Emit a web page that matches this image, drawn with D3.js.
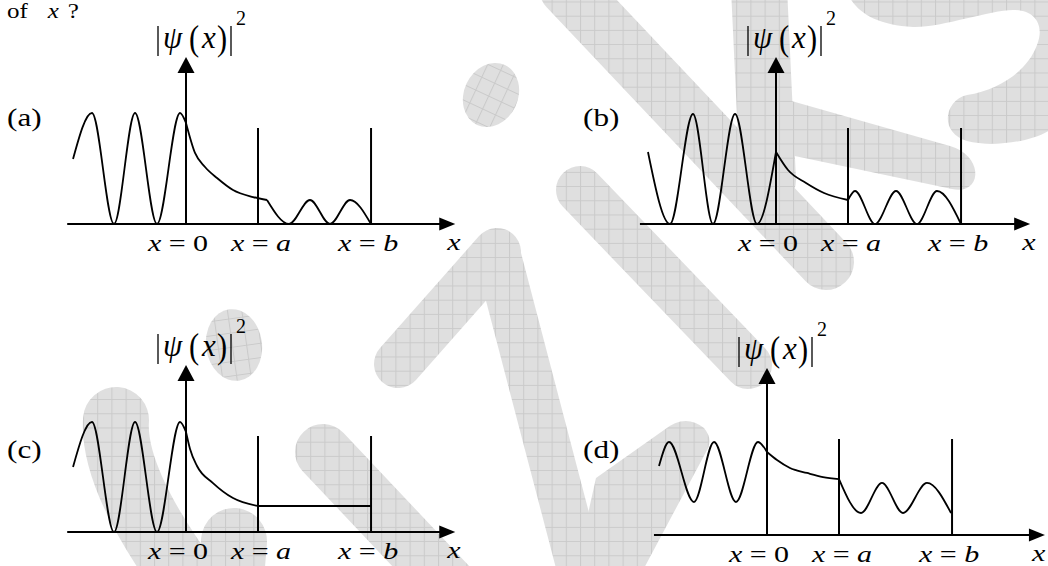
<!DOCTYPE html>
<html>
<head>
<meta charset="utf-8">
<script src="https://cdn.jsdelivr.net/npm/d3@7"></script>
<style>
  body { margin: 0; background: #fff; }
  svg { display: block; }
</style>
</head>
<body>
<svg id="chart" width="1048" height="566"></svg>
<script>
// panel names and the three marked positions on every x axis (x = 0, x = a, x = b)
let panelNames = ["(a)", "(b)", "(c)", "(d)"];
let tickNames = ["0", "a", "b"];
let tickValues = [0, 1, 2.57];
let axisStart = [-1.65, -1.89, -1.65, -1.57];
let axisEnd = [3.74, 3.53, 3.74, 3.86];

// |psi(x)|^2, [x, value] with a = 1 and barrier height = 1
// each curve is split into the pieces left of 0, inside the barrier, right of it
let curveA = [
  [[-1.569, 0.677], [-1.306, 1.156], [-1.0, 0], [-0.708, 1.156], [-0.403, 0], [-0.083, 1.156], [0, 1.052]],
  [[0, 1.052], [0.125, 0.74], [0.264, 0.594], [0.431, 0.479], [0.653, 0.354], [0.931, 0.281], [1.125, 0.25]],
  [[1.125, 0.25], [1.431, 0], [1.722, 0.25], [2.0, 0], [2.278, 0.25], [2.569, 0]],
];
let curveB = [
  [[-1.778, 0.75], [-1.472, 0], [-1.153, 1.146], [-0.875, 0], [-0.569, 1.146], [-0.264, 0], [0, 0.75]],
  [[0, 0.75], [0.167, 0.5625], [0.417, 0.427], [0.667, 0.323], [1.0, 0.25]],
  [[1.0, 0.25], [1.097, 0.344], [1.375, 0], [1.667, 0.344], [1.958, 0], [2.236, 0.344], [2.569, 0]],
];
let curveC = [
  [[-1.569, 0.677], [-1.306, 1.146], [-1.0, 0], [-0.708, 1.146], [-0.403, 0], [-0.083, 1.146], [0, 1.042]],
  [[0, 1.042], [0.056, 0.865], [0.153, 0.6875], [0.375, 0.51], [0.653, 0.354], [1.0, 0.271]],
  [[1.0, 0.271], [2.569, 0.271]],
];
let curveD = [
  [[-1.5, 0.719], [-1.361, 0.969], [-1.014, 0.344], [-0.736, 0.969], [-0.431, 0.344], [-0.125, 0.969], [0, 0.865]],
  [[0, 0.865], [0.139, 0.781], [0.319, 0.698], [0.556, 0.646], [0.778, 0.604], [1.0, 0.583]],
  [[1.0, 0.583], [1.306, 0.229], [1.597, 0.542], [1.889, 0.229], [2.222, 0.542], [2.556, 0.229]],
];
let curves = [curveA, curveB, curveC, curveD];

// where each panel sits on the page
let layout = [
  { x0: 186, y0: 224, labelX: 7, labelY: 126 },
  { x0: 776, y0: 224, labelX: 583, labelY: 126 },
  { x0: 186, y0: 532, labelX: 7, labelY: 458 },
  { x0: 767, y0: 535, labelX: 583, labelY: 458 },
];
let unitX = 72;
let unitY = 96;
let arrowTop = 1.74;
let tickShift = [-8, 3, -3];
let serif = "'Liberation Serif', 'Times New Roman', Times, serif";

let svg = d3.select("#chart").attr("font-family", serif);

// watermark in the background: grey brush strokes with a fine grid
let defs = svg.append("defs");
let pat = defs
  .append("pattern")
  .attr("id", "grid")
  .attr("patternUnits", "userSpaceOnUse")
  .attr("width", 14.2)
  .attr("height", 14.2)
  .attr("x", 12)
  .attr("y", 1.5);
pat.append("rect").attr("width", 14.2).attr("height", 14.2).attr("fill", "#dfdfdf");
pat
  .append("path")
  .attr("d", "M0,0.5H14.2M0.5,0V14.2")
  .attr("stroke", "#cacaca")
  .attr("stroke-width", 1)
  .attr("fill", "none");

let wm = svg.append("g").attr("class", "watermark");

let strokes = [
  { d: "M567,-12 L826,262", w: 56 },
  { d: "M759,-12 L768,180", w: 56 },
  { d: "M580,190 L748,365", w: 48 },
  { d: "M398,364 L497,252", w: 48 },
  { d: "M497,252 L592,615", w: 46 },
  { d: "M116,420 Q112,480 190,585", w: 66 },
  { d: "M234,541 L228,615", w: 66 },
  { d: "M323,452 L458,595", w: 56 },
];
wm.selectAll(".brush")
  .data(strokes)
  .enter()
  .append("path")
  .attr("class", "brush")
  .attr("d", (d) => d.d)
  .attr("fill", "none")
  .attr("stroke", "url(#grid)")
  .attr("stroke-width", (d) => d.w)
  .attr("stroke-linecap", "round");

let shapes = [
  "M788,100 L950,146 C985,156 982,196 952,189 L790,155 Z",
  "M850,-2 C860,15 880,25 913,27 C940,28 990,10 1013,10 C1035,10 1045,25 1037,45 C1028,70 1000,90 967,95 C945,100 938,132 967,141 C990,147 1030,143 1050,130 L1050,-2 Z",
  "M596,478 L664,430 Q685,413 704,428 Q714,440 706,452 L642,572 L575,572 Z",
];
wm.selectAll(".blob")
  .data(shapes)
  .enter()
  .append("path")
  .attr("class", "blob")
  .attr("d", (d) => d)
  .attr("fill", "url(#grid)");

wm.append("ellipse")
  .attr("rx", 27).attr("ry", 33)
  .attr("transform", "translate(491,95) rotate(25)")
  .attr("fill", "url(#grid)");
wm.append("ellipse")
  .attr("rx", 28).attr("ry", 36)
  .attr("transform", "translate(234,345) rotate(-8)")
  .attr("fill", "url(#grid)");

// end of the question text at the top edge
let q = svg
  .append("text")
  .attr("transform", "translate(7,18) scale(1.25,1)")
  .attr("font-size", 20);
q.append("tspan").text("of");
q.append("tspan").attr("dx", 16).attr("font-style", "italic").text("x");
q.append("tspan").attr("dx", 7).text("?");

let line = d3
  .line()
  .curve(d3.curveMonotoneX);

layout.forEach(function (p, i) {
  let g = svg.append("g").attr("class", "panel");

  let x = d3.scaleLinear().domain([0, 1]).range([p.x0, p.x0 + unitX]);
  let y = d3.scaleLinear().domain([0, 1]).range([p.y0, p.y0 - unitY]);

  // x axis with arrow
  let xEnd = x(axisEnd[i]);
  g.append("line")
    .attr("x1", x(axisStart[i]))
    .attr("x2", xEnd - 12)
    .attr("y1", y(0))
    .attr("y2", y(0))
    .attr("stroke", "#000")
    .attr("stroke-width", 2);
  g.append("path")
    .attr("d", `M${xEnd},${y(0)} L${xEnd - 16},${y(0) - 6.5} L${xEnd - 16},${y(0) + 6.5} Z`)
    .attr("fill", "#000");

  // y axis with arrow
  let tip = y(arrowTop);
  g.append("line")
    .attr("x1", x(0))
    .attr("x2", x(0))
    .attr("y1", y(0))
    .attr("y2", tip + 12)
    .attr("stroke", "#000")
    .attr("stroke-width", 2);
  g.append("path")
    .attr("d", `M${x(0)},${tip} L${x(0) - 8.5},${tip + 16} L${x(0) + 8.5},${tip + 16} Z`)
    .attr("fill", "#000");

  // walls at x = a and x = b
  g.selectAll(".wall")
    .data(tickValues.slice(1))
    .enter()
    .append("line")
    .attr("class", "wall")
    .attr("x1", (d) => x(d))
    .attr("x2", (d) => x(d))
    .attr("y1", y(0))
    .attr("y2", y(1))
    .attr("stroke", "#000")
    .attr("stroke-width", 2);

  // the probability density
  line.x((d) => x(d[0])).y((d) => y(d[1]));
  g.selectAll(".psi")
    .data(curves[i])
    .enter()
    .append("path")
    .attr("class", "psi")
    .attr("d", line)
    .attr("fill", "none")
    .attr("stroke", "#000")
    .attr("stroke-width", 1.8)
    .attr("stroke-linejoin", "round");

  // tick labels x = 0, x = a, x = b
  tickValues.forEach(function (v, k) {
    let t = g
      .append("text")
      .attr("transform", `translate(${x(v) + tickShift[k]},${y(0) + 27}) scale(1.25,1)`)
      .attr("text-anchor", "middle")
      .attr("font-size", 24);
    t.append("tspan").attr("font-style", "italic").text("x");
    t.append("tspan").attr("dx", 6).text("=");
    t.append("tspan")
      .attr("dx", 6)
      .attr("font-style", k === 0 ? "normal" : "italic")
      .text(tickNames[k]);
  });

  // axis name, kept inside the page on the right
  g.append("text")
    .attr("transform", `translate(${Math.min(xEnd - 8, 1032)},${y(0) + 26}) scale(1.25,1)`)
    .attr("font-size", 24)
    .attr("font-style", "italic")
    .text("x");

  // |psi(x)|^2 above the arrow
  let x0 = x(0);
  [x0 - 28, x0 + 45].forEach(function (bx) {
    g.append("line")
      .attr("x1", bx).attr("x2", bx)
      .attr("y1", tip - 31).attr("y2", tip - 1)
      .attr("stroke", "#000")
      .attr("stroke-width", 1.3);
  });
  g.append("text")
    .attr("x", x0 - 23).attr("y", tip - 9)
    .attr("font-size", 31).attr("font-style", "italic")
    .text("\u03C8");
  g.append("text")
    .attr("transform", `translate(${x0 + 3},${tip - 7}) scale(0.95,1.15)`)
    .attr("font-size", 32)
    .text("(");
  g.append("text")
    .attr("x", x0 + 16).attr("y", tip - 9)
    .attr("font-size", 31).attr("font-style", "italic")
    .text("x");
  g.append("text")
    .attr("transform", `translate(${x0 + 31},${tip - 7}) scale(0.95,1.15)`)
    .attr("font-size", 32)
    .text(")");
  g.append("text")
    .attr("x", x0 + 50).attr("y", tip - 32)
    .attr("font-size", 20)
    .text("2");

  // panel letter
  g.append("text")
    .attr("transform", `translate(${p.labelX},${p.labelY}) scale(1.2,1)`)
    .attr("font-size", 26)
    .text(panelNames[i]);
});
</script>
</body>
</html>
